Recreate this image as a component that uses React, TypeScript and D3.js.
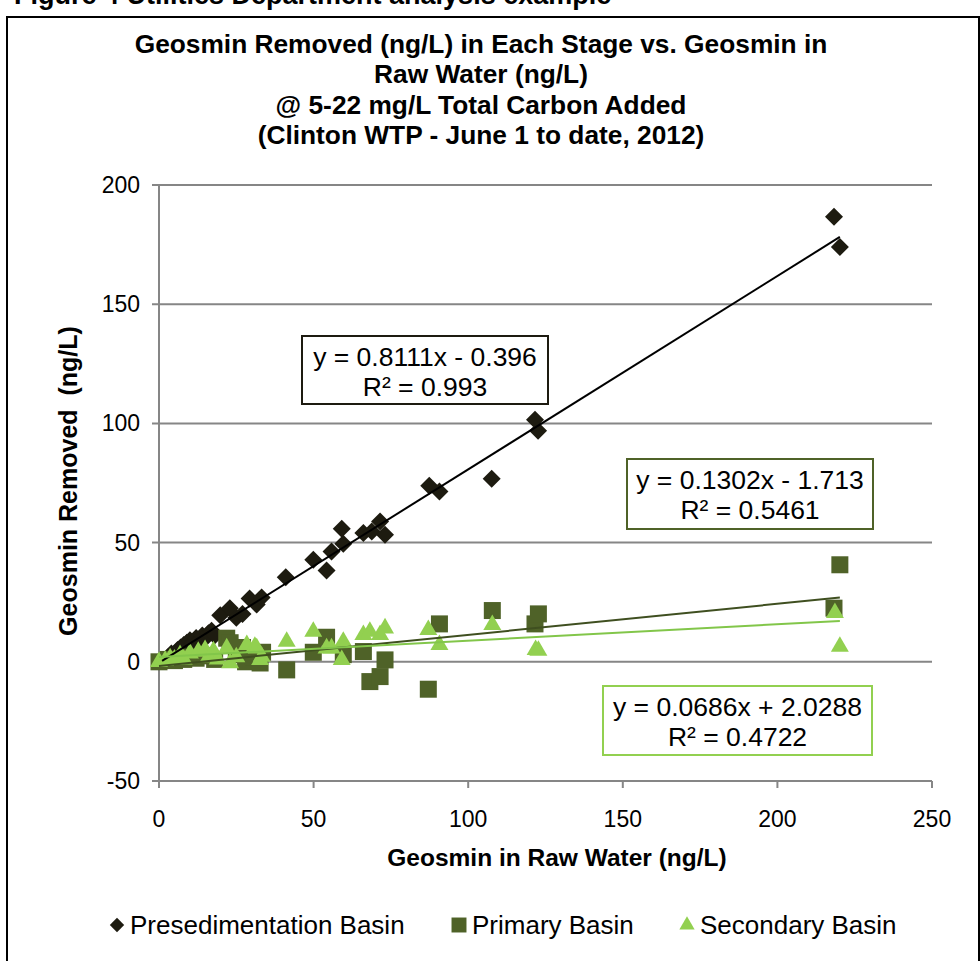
import React from 'react'
import * as d3 from 'd3'

// Geosmin in raw water (x) vs geosmin removed (y), ng/L
const presed: [number, number][] = [
  [1, 0.5], [3, 2], [4, 3.5], [6, 5], [7, 6], [8, 7], [9, 8], [10, 9], [11, 8],
  [12, 10], [13, 9], [14, 11], [15, 10], [16, 12], [17, 13], [18, 11],
  [19.8, 19.5], [22.9, 22.5], [25, 18.5], [27, 20], [29.3, 26.5], [31.6, 24],
  [33.2, 27], [41, 35.5], [49.9, 42.8], [54.2, 38.3], [55.8, 46.3], [59.1, 55.8],
  [59.6, 49.5], [66.1, 54], [68.8, 54.7], [71.5, 58.9], [73.1, 53.3], [87.4, 73.8],
  [90.7, 71.4], [107.6, 76.8], [121.6, 101.5], [122.6, 96.9], [218.3, 186.7], [220.2, 174],
]
const primary: [number, number][] = [
  [0, 0], [3, 1], [5, 0.5], [8, 1], [10, 2], [12, 1.5], [15, 2.5], [18, 1],
  [21.9, 9.9], [23, 8], [25, 3], [27, 6], [28, 0], [30.5, 2.2], [32.7, -0.5],
  [33.5, 4], [41.3, -3.4], [49.9, 4], [54.2, 10.3], [59.6, 3], [66.1, 4.3],
  [68.2, -8.3], [71.5, -6.2], [73.1, 0.8], [87.1, -11.5], [90.7, 15.9],
  [107.8, 21.5], [121.6, 15.9], [122.7, 20.1], [218.3, 22.5], [220.2, 40.7],
]
const secondary: [number, number][] = [
  [0, 0], [2, 0.5], [3.6, 1.5], [5, 1], [6.8, 2.9], [8, 1], [10, 3.6], [12.7, 4.3],
  [14.9, 5], [16, 2], [17.6, 4.5], [19, 1], [21.9, 5.7], [23, -0.5], [25, 2],
  [28.4, 7.1], [31, 6.4], [31.6, 5.7], [32.7, 0.8], [33.2, 2.2], [41.3, 8.5],
  [49.9, 12.7], [54.2, 5.7], [55.8, 5.7], [59.1, 0.8], [59.6, 8.5], [66.1, 11.3],
  [68.2, 12.7], [71.5, 11.3], [73.1, 14.1], [87.1, 13.4], [90.7, 7.1], [107.8, 15.5],
  [121.8, 5], [122.7, 4.7], [218.6, 20.5], [220.2, 6.4],
]

// trendline coefficients as printed on the chart
const fits = [
  { slope: 0.8111, intercept: -0.396, r2: '0.993', label: 'y = 0.8111x - 0.396' },
  { slope: 0.1302, intercept: -1.713, r2: '0.5461', label: 'y = 0.1302x - 1.713' },
  { slope: 0.0686, intercept: 2.0288, r2: '0.4722', label: 'y = 0.0686x + 2.0288' },
]

const seriesNames = ['Presedimentation Basin', 'Primary Basin', 'Secondary Basin']
const xTicks = [0, 50, 100, 150, 200, 250]
const yTicks = [-50, 0, 50, 100, 150, 200]
const titleLines = [
  'Geosmin Removed (ng/L) in Each Stage vs. Geosmin in',
  'Raw Water (ng/L)',
  '@ 5-22 mg/L Total Carbon Added',
  '(Clinton WTP - June 1 to date, 2012)',
]

const colors = ['#1d1b10', '#4f6228', '#92d050']
const lineColors = ['#000000', '#3f4f20', '#82c64a']
const font = 'Arial, "Liberation Sans", sans-serif'

const x = d3.scaleLinear().domain([0, 250]).range([159, 932])
const y = d3.scaleLinear().domain([-50, 200]).range([781, 185])

const diamond = d3.symbol().type(d3.symbolSquare).size(162)()
const square = d3.symbol().type(d3.symbolSquare).size(289)()
const triangle = d3.symbol().type(d3.symbolTriangle).size(140)()

const marker = (i: number, scale = 1) => {
  const p = i === 0 ? diamond : i === 1 ? square : triangle
  const rot = i === 0 ? ' rotate(45)' : ''
  return { d: p, t: `scale(${scale})${rot}` }
}

const boxes = [
  { x0: 302, y0: 336, w: 246, h: 68 },
  { x0: 627, y0: 459, w: 246, h: 70 },
  { x0: 603, y0: 686, w: 269, h: 69 },
]

export default function App() {
  const data = [presed, primary, secondary]
  const line = d3.line<[number, number]>().x(d => x(d[0])).y(d => y(d[1]))

  return (
    <svg width={980} height={961} style={{ position: 'absolute', left: 0, top: 0, background: '#fff' }} fontFamily={font}>
      <text x={14} y={4} fontSize={27} fontWeight="bold">Figure 4 Utilities Department analysis example</text>
      <rect x={7} y={17} width={972} height={960} fill="none" stroke="#000" strokeWidth={2} />

      {titleLines.map((t, i) => (
        <text key={i} x={481} y={53 + i * 30.3} textAnchor="middle" fontSize={26.3} fontWeight="bold">{t}</text>
      ))}

      {yTicks.map(t => (
        <g key={t}>
          <line x1={152} x2={932} y1={y(t)} y2={y(t)} stroke="#868686" strokeWidth={2} />
          <text x={140} y={y(t) + 8} textAnchor="end" fontSize={23}>{t}</text>
        </g>
      ))}
      <line x1={x(0)} x2={x(0)} y1={y(200)} y2={y(-50)} stroke="#868686" strokeWidth={2} />
      {xTicks.map(t => (
        <g key={t}>
          <line x1={x(t)} x2={x(t)} y1={y(-50)} y2={y(-50) + 7} stroke="#868686" strokeWidth={2} />
          <text x={x(t)} y={827} textAnchor="middle" fontSize={23}>{t}</text>
        </g>
      ))}

      <text x={557} y={866} textAnchor="middle" fontSize={24.5} fontWeight="bold">Geosmin in Raw Water (ng/L)</text>
      <text transform={`translate(77,481) rotate(-90)`} textAnchor="middle" fontSize={25} fontWeight="bold" xmlSpace="preserve">Geosmin Removed  (ng/L)</text>

      {data.map((s, i) => (
        <g key={i} fill={colors[i]}>
          {s.map((d, j) => {
            const m = marker(i)
            return <path key={j} d={m.d} transform={`translate(${x(d[0])},${y(d[1])}) ${m.t}`} />
          })}
        </g>
      ))}

      {data.map((s, i) => {
        const ext = d3.extent(s, d => d[0]) as [number, number]
        const f = fits[i]
        const pts: [number, number][] = ext.map(v => [v, f.slope * v + f.intercept])
        return <path key={i} d={line(pts) || ''} fill="none" stroke={lineColors[i]} strokeWidth={2} />
      })}

      {boxes.map((b, i) => (
        <g key={i}>
          <rect x={b.x0} y={b.y0} width={b.w} height={b.h} fill="#fff" stroke={colors[i]} strokeWidth={2} />
          <text x={b.x0 + b.w / 2} y={b.y0 + 30} textAnchor="middle" fontSize={26.5}>{fits[i].label}</text>
          <text x={b.x0 + b.w / 2} y={b.y0 + 60} textAnchor="middle" fontSize={26.5}>{`R² = ${fits[i].r2}`}</text>
        </g>
      ))}

      {seriesNames.map((n, i) => {
        const lx = [117, 459, 687][i]
        const m = marker(i, i === 0 ? 0.8 : i === 1 ? 0.88 : 0.85)
        return (
          <g key={n}>
            <path d={m.d} transform={`translate(${lx},${925}) ${m.t}`} fill={colors[i]} />
            <text x={lx + 13} y={934} fontSize={26}>{n}</text>
          </g>
        )
      })}
    </svg>
  )
}
